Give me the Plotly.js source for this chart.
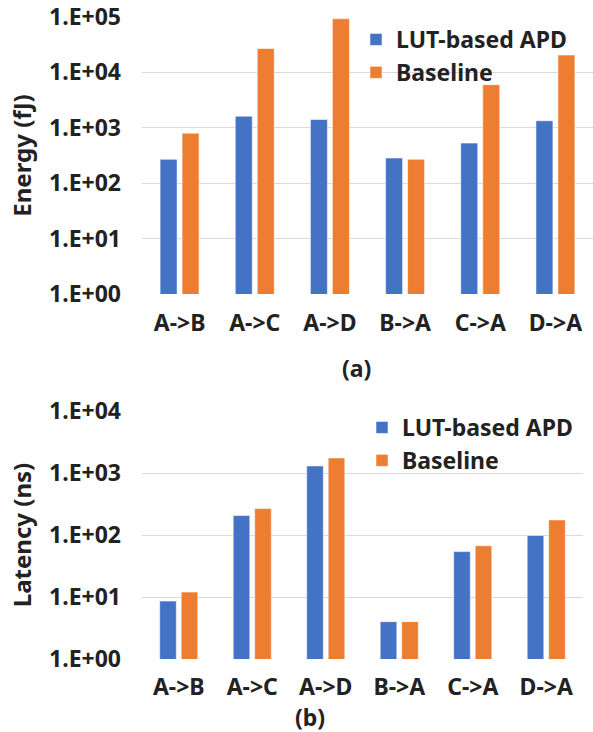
<!DOCTYPE html>
<html>
<head>
<meta charset="utf-8">
<script src="https://cdn.plot.ly/plotly-3.0.1.min.js"></script>
<style>html,body{margin:0;padding:0;background:#fff;}#chart{width:593px;height:732px;}</style>
</head>
<body>
<div id="chart"></div>
<script>
const categories = ["A->B", "A->C", "A->D", "B->A", "C->A", "D->A"];
const energyLUT = [270, 1620, 1410, 285, 530, 1340];
const energyBaseline = [800, 27000, 93000, 270, 6000, 20600];
const latencyLUT = [8.6, 206, 1300, 4.0, 54, 98];
const latencyBaseline = [12, 267, 1750, 4.0, 67, 175];
const energyTicks = [1, 10, 100, 1000, 10000, 100000];
const energyTickText = ["1.E+00", "1.E+01", "1.E+02", "1.E+03", "1.E+04", "1.E+05"];
const latencyTicks = [1, 10, 100, 1000, 10000];
const latencyTickText = ["1.E+00", "1.E+01", "1.E+02", "1.E+03", "1.E+04"];
const seriesNames = ["LUT-based APD", "Baseline"];
const panelLabels = ["(a)", "(b)"];

const BLUE = "#4472C4", ORANGE = "#ED7D31", TXT = "#222222";
const F = (s) => ({family: "Noto Sans, Open Sans, sans-serif", size: s, color: TXT, weight: 700});
const barLine = {color: "rgba(255,255,255,0.55)", width: 1};

const data = [
  {type: "bar", x: categories, y: energyLUT, name: seriesNames[0], marker: {color: BLUE, line: barLine}, xaxis: "x", yaxis: "y", legend: "legend"},
  {type: "bar", x: categories, y: energyBaseline, name: seriesNames[1], marker: {color: ORANGE, line: barLine}, xaxis: "x", yaxis: "y", legend: "legend"},
  {type: "bar", x: categories, y: latencyLUT, name: seriesNames[0], marker: {color: BLUE, line: barLine}, xaxis: "x2", yaxis: "y2", legend: "legend2"},
  {type: "bar", x: categories, y: latencyBaseline, name: seriesNames[1], marker: {color: ORANGE, line: barLine}, xaxis: "x2", yaxis: "y2", legend: "legend2"}
];

const W = 593, H = 732;
const py = (p) => 1 - p / H;

const layout = {
  width: W, height: H,
  margin: {l: 142, r: 0, t: 0, b: 0},
  paper_bgcolor: "#fff", plot_bgcolor: "#fff",
  barmode: "group", bargap: 0.415, bargroupgap: 0.227,
  font: F(23),
  xaxis: {domain: [0, 1], anchor: "y", showgrid: false, showline: false, ticks: "", tickfont: F(23), ticklabelstandoff: 13, automargin: false},
  yaxis: {domain: [py(294), py(17)], anchor: "x", type: "log", range: [0, 5], tickvals: energyTicks, ticktext: energyTickText, tickfont: F(23), showgrid: true, gridcolor: "#D9D9D9", gridwidth: 1, showline: false, zeroline: false, ticks: "", ticklabelstandoff: 20, automargin: false,
    title: {text: "Energy (fJ)", font: F(24), standoff: 10}},
  xaxis2: {domain: [0, 441 / 451], anchor: "y2", showgrid: false, showline: false, ticks: "", tickfont: F(23), ticklabelstandoff: 12, automargin: false},
  yaxis2: {domain: [py(659), py(411)], anchor: "x2", type: "log", range: [0, 4], tickvals: latencyTicks, ticktext: latencyTickText, tickfont: F(23), showgrid: true, gridcolor: "#D9D9D9", gridwidth: 1, showline: false, zeroline: false, ticks: "", ticklabelstandoff: 20, automargin: false,
    title: {text: "Latency (ns)", font: F(24), standoff: 10}},
  legend: {x: (356 - 142) / 451, xanchor: "left", y: py(18), yanchor: "top", font: F(23), bgcolor: "rgba(0,0,0,0)", tracegroupgap: 0},
  legend2: {x: (362 - 142) / 451, xanchor: "left", y: py(406), yanchor: "top", font: F(23), bgcolor: "rgba(0,0,0,0)", tracegroupgap: 0},
  annotations: [
    {text: panelLabels[0], xref: "paper", yref: "paper", x: (356 - 142) / 451, y: py(368), xanchor: "center", yanchor: "middle", showarrow: false, font: F(23)},
    {text: panelLabels[1], xref: "paper", yref: "paper", x: (310 - 142) / 451, y: py(717), xanchor: "center", yanchor: "middle", showarrow: false, font: F(23)}
  ]
};

Plotly.newPlot("chart", data, layout, {displayModeBar: false, staticPlot: true});
</script>
</body>
</html>
